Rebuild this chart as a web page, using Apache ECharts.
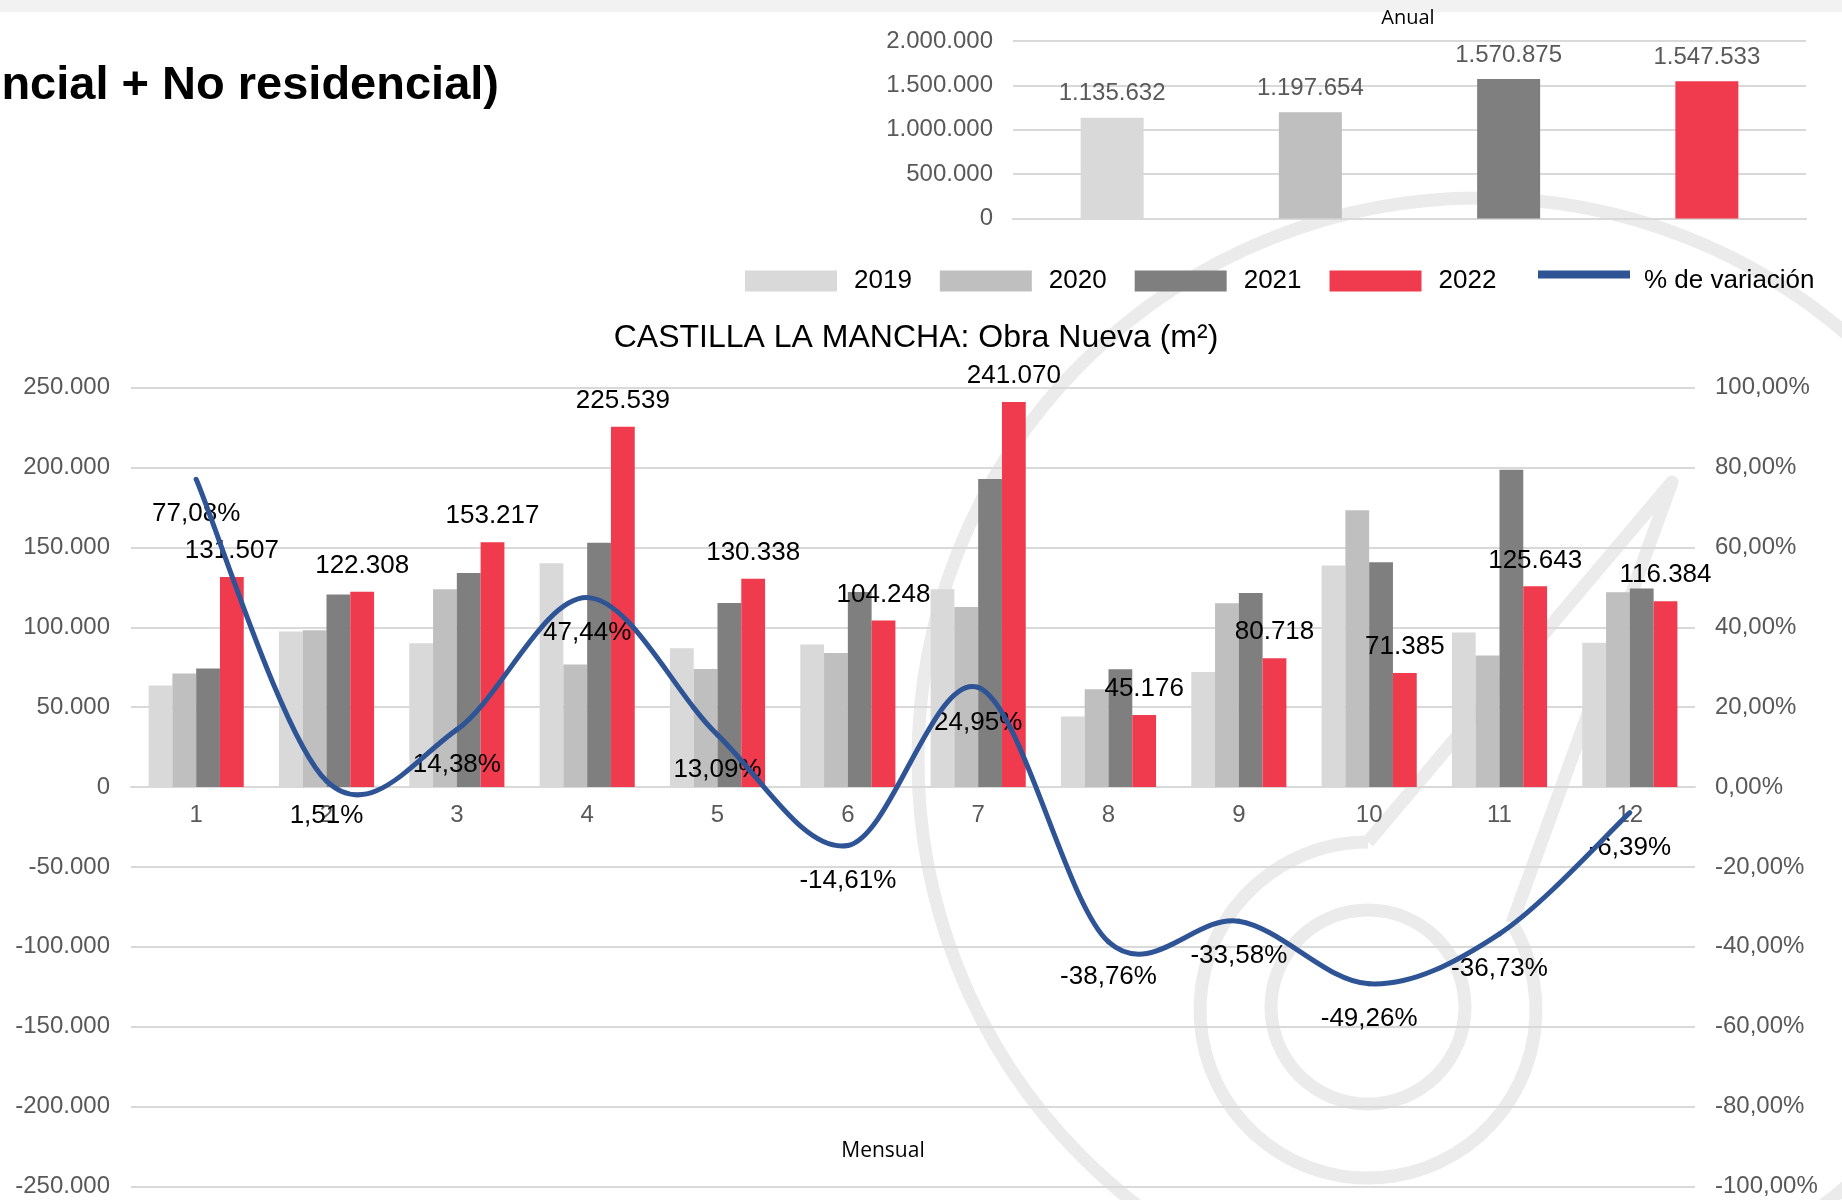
<!DOCTYPE html>
<html>
<head>
<meta charset="utf-8">
<title>Castilla La Mancha: Obra Nueva (m²)</title>
<script src="https://cdn.jsdelivr.net/npm/echarts@6/dist/echarts.min.js"></script>
<style>
  html, body { margin: 0; padding: 0; background: #fff; }
  #chart { width: 1842px; height: 1200px; }
</style>
</head>
<body>
<div id="chart"></div>
<script>
// datos anuales
var years = ['2019', '2020', '2021', '2022'];
var yearColors = ['#d9d9d9', '#bfbfbf', '#7f7f7f', '#ef3b4d'];
var annualTotals = [1135632, 1197654, 1570875, 1547533];

// datos mensuales (m²)
var months = ['1', '2', '3', '4', '5', '6', '7', '8', '9', '10', '11', '12'];
var m2019 = [63600, 97400, 90100, 140100, 86900, 89200, 123900, 44200, 72100, 138700, 96700, 90300];
var m2020 = [71100, 98200, 123900, 76700, 74000, 84000, 112800, 61300, 115100, 173300, 82400, 122000];
var m2021 = [74260, 120490, 133950, 152970, 115250, 122080, 192930, 73770, 121530, 140690, 198580, 124330];
var m2022 = [131507, 122308, 153217, 225539, 130338, 104248, 241070, 45176, 80718, 71385, 125643, 116384];
// % de variación 2022 / 2021
var variation = [77.08, 1.51, 14.38, 47.44, 13.09, -14.61, 24.95, -38.76, -33.58, -49.26, -36.73, -6.39];

var lineColor = '#2f5496';
var axisGray = '#595959';
var gridGray = '#d9d9d9';
var wmGray = '#ebebeb';
var fontFam = "'Liberation Sans', Arial, sans-serif";

// alto del grid mensual y posición del cero (mitad)
var mainTop = 387.7;
var mainHeight = 798.8;

function fmt(v) {
  return String(v).replace(/\B(?=(\d{3})+(?!\d))/g, '.');
}
function pct(v) {
  return v.toFixed(2).replace('.', ',') + '%';
}

// curva suavizada tipo Excel (Catmull-Rom) entre puntos de la serie
function renderVariation(params, api) {
  var i = params.dataIndex;
  var n = variation.length;
  var pt = function (k) {
    k = Math.max(0, Math.min(n - 1, k));
    return api.coord([k, variation[k]]);
  };
  var p1 = pt(i);
  var children = [];
  if (i < n - 1) {
    var p0 = pt(i - 1), p2 = pt(i + 1), p3 = pt(i + 2);
    children.push({
      type: 'bezierCurve',
      z2: 10,
      shape: {
        x1: p1[0], y1: p1[1],
        cpx1: p1[0] + (p2[0] - p0[0]) / 6, cpy1: p1[1] + (p2[1] - p0[1]) / 6,
        cpx2: p2[0] - (p3[0] - p1[0]) / 6, cpy2: p2[1] - (p3[1] - p1[1]) / 6,
        x2: p2[0], y2: p2[1]
      },
      style: { fill: null, stroke: lineColor, lineWidth: 5, lineCap: 'round' }
    });
  }
  children.push({
    type: 'text',
    z2: 1,
    x: p1[0],
    y: p1[1] + 35,
    style: { text: pct(variation[i]), textAlign: 'center', textVerticalAlign: 'middle', fill: '#000', font: '26px ' + fontFam }
  });
  return { type: 'group', children: children };
}

var chart = echarts.init(document.getElementById('chart'));

var monthSeries = [m2019, m2020, m2021, m2022].map(function (d, i) {
  var s = {
    name: years[i],
    type: 'bar',
    xAxisIndex: 1,
    yAxisIndex: 1,
    barGap: 0,
    barCategoryGap: '27%',
    itemStyle: { color: yearColors[i] },
    data: d
  };
  if (i === 3) {
    s.label = {
      show: true,
      position: 'top',
      distance: 13,
      color: '#000',
      fontSize: 26,
      fontFamily: fontFam,
      formatter: function (p) { return fmt(p.value); }
    };
  }
  return s;
});

var option = {
  animation: false,
  backgroundColor: '#fff',
  textStyle: { fontFamily: fontFam },
  graphic: [
    { type: 'rect', z: -10, shape: { x: 0, y: 0, width: 1842, height: 12 }, style: { fill: '#f2f2f2' } },
    // marca de agua
    { type: 'circle', z: -10, shape: { cx: 1480, cy: 760, r: 562 }, style: { fill: 'none', stroke: wmGray, lineWidth: 13 } },
    { type: 'arc', z: -10, shape: { cx: 1368, cy: 1010, r: 168, startAngle: -0.54, endAngle: Math.PI * 1.5, clockwise: true }, style: { fill: 'none', stroke: wmGray, lineWidth: 13 } },
    { type: 'polyline', z: -10, shape: { points: [[1368, 842], [1672, 482], [1512, 923]] }, style: { fill: 'none', stroke: wmGray, lineWidth: 13, lineJoin: 'round' } },
    { type: 'circle', z: -10, shape: { cx: 1368, cy: 1007, r: 97 }, style: { fill: 'none', stroke: wmGray, lineWidth: 13 } },
    // textos
    { type: 'text', style: { text: 'Obra Nueva (Residencial + No residencial)', x: 499, y: 86, textAlign: 'right', textVerticalAlign: 'middle', fill: '#000', font: 'bold 47px ' + fontFam } },
    { type: 'text', style: { text: 'Anual', x: 1408, y: 18, textAlign: 'center', textVerticalAlign: 'middle', fill: '#000', font: "20px 'Open Sans', sans-serif" } },
    { type: 'text', style: { text: 'CASTILLA LA MANCHA: Obra Nueva (m²)', x: 916, y: 338, textAlign: 'center', textVerticalAlign: 'middle', fill: '#000', font: '32px ' + fontFam } },
    { type: 'text', style: { text: 'Mensual', x: 883, y: 1151, textAlign: 'center', textVerticalAlign: 'middle', fill: '#000', font: "21px 'Open Sans', sans-serif" } }
  ],
  legend: [
    {
      data: years,
      left: 745,
      top: 268,
      padding: 0,
      itemWidth: 92,
      itemHeight: 21,
      itemGap: 28,
      icon: 'rect',
      textStyle: { fontSize: 26, color: '#000', fontFamily: fontFam, padding: [0, 0, 0, 12] }
    },
    {
      data: [{ name: '% de variación', icon: 'path://M0,0h92v8h-92zM0,21h92v0h-92z' }],
      left: 1538,
      top: 268,
      padding: 0,
      itemWidth: 92,
      itemHeight: 21,
      textStyle: { fontSize: 26, color: '#000', fontFamily: fontFam, padding: [0, 0, 0, 9] }
    }
  ],
  grid: [
    { left: 1013, top: 41, width: 793, height: 177.5 },
    { left: 131, top: mainTop, width: 1564, height: mainHeight }
  ],
  xAxis: [
    {
      type: 'category',
      gridIndex: 0,
      data: years,
      axisLine: { lineStyle: { color: gridGray, width: 2 } },
      axisTick: { show: false },
      axisLabel: { show: false }
    },
    {
      // eje de categorías sobre el cero (mitad del grid)
      type: 'category',
      gridIndex: 1,
      data: months,
      position: 'bottom',
      offset: -mainHeight / 2,
      axisLine: { onZero: false, lineStyle: { color: gridGray, width: 2 } },
      axisTick: { show: false },
      axisLabel: { color: axisGray, fontSize: 24, margin: 16, fontFamily: fontFam }
    }
  ],
  yAxis: [
    {
      type: 'value',
      gridIndex: 0,
      min: 0,
      max: 2000000,
      interval: 500000,
      axisLine: { show: false },
      axisTick: { show: false },
      splitLine: { lineStyle: { color: gridGray, width: 2 } },
      axisLabel: { color: axisGray, fontSize: 24, margin: 20, fontFamily: fontFam, formatter: fmt }
    },
    {
      type: 'value',
      gridIndex: 1,
      min: -250000,
      max: 250000,
      interval: 50000,
      axisLine: { show: false },
      axisTick: { show: false },
      splitLine: { lineStyle: { color: gridGray, width: 2 } },
      axisLabel: { color: axisGray, fontSize: 24, margin: 21, fontFamily: fontFam, formatter: fmt }
    },
    {
      type: 'value',
      gridIndex: 1,
      position: 'right',
      min: -100,
      max: 100,
      interval: 20,
      axisLine: { show: false },
      axisTick: { show: false },
      splitLine: { show: false },
      axisLabel: { color: axisGray, fontSize: 24, margin: 20, fontFamily: fontFam, formatter: pct }
    }
  ],
  series: [
    {
      name: 'Anual',
      type: 'bar',
      xAxisIndex: 0,
      yAxisIndex: 0,
      barWidth: 63,
      data: annualTotals.map(function (v, i) {
        return { value: v, itemStyle: { color: yearColors[i] } };
      }),
      label: {
        show: true,
        position: 'top',
        distance: 12,
        color: axisGray,
        fontSize: 24,
        fontFamily: fontFam,
        formatter: function (p) { return fmt(p.value); }
      }
    }
  ].concat(monthSeries).concat([
    {
      name: '% de variación',
      type: 'custom',
      coordinateSystem: 'cartesian2d',
      xAxisIndex: 1,
      yAxisIndex: 2,
      z: 5,
      itemStyle: { color: lineColor },
      encode: { x: 0, y: 1 },
      renderItem: renderVariation,
      data: variation.map(function (v, i) { return [i, v]; })
    }
  ])
};

chart.setOption(option);
</script>
</body>
</html>
